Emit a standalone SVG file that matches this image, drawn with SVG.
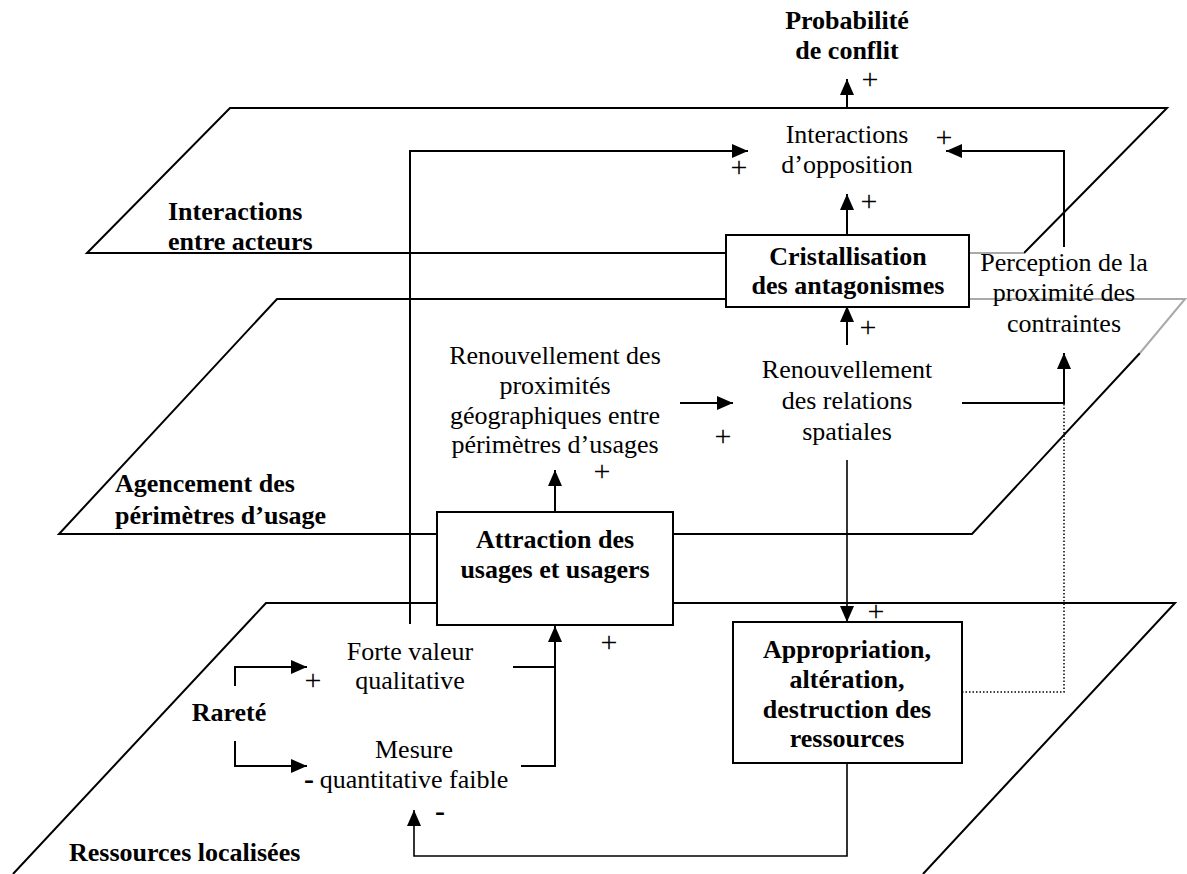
<svg xmlns="http://www.w3.org/2000/svg" width="1187" height="874" viewBox="0 0 1187 874">
<style>
text{font-family:"Liberation Serif","Times New Roman",serif;font-size:26px;fill:#000;text-anchor:middle}
.b{font-weight:bold}
.l{text-anchor:start}
.s{font-size:30px}
.pl{fill:none;stroke:#000;stroke-width:2}
.gr{fill:none;stroke:#aaa;stroke-width:2}
.box{fill:#fff;stroke:#000;stroke-width:2}
.c{fill:none;stroke:#000;stroke-width:2}
.c2{fill:none;stroke:#000;stroke-width:1.6}
.dot{fill:none;stroke:#000;stroke-width:1.5;stroke-dasharray:1.5 2}
</style>
<defs>
<marker id="ah" markerUnits="userSpaceOnUse" viewBox="0 0 16 14" refX="16" refY="7" markerWidth="16" markerHeight="14" orient="auto">
<path d="M0,0 L16,7 L0,14 z" fill="#000"/>
</marker>
</defs>
<g id="planes">
<path class="pl" d="M726,253 H87 L230,108 H1167 L1024,253"/>
<path class="gr" d="M1024,253 H969"/>
<path class="pl" d="M726,299 H277 L59,534 H437"/>
<path class="pl" d="M673,534 H972 L1140,353"/>
<path class="gr" d="M1140,353 L1185,299 H969"/>
<path class="pl" d="M437,603 H266 L13,874"/>
<path class="pl" d="M673,603 H1175 L923,874"/>
<text class="b l" x="168" y="220">Interactions</text>
<text class="b l" x="168" y="250">entre acteurs</text>
<text class="b l" x="115" y="492">Agencement des</text>
<text class="b l" x="115" y="524">périmètres d’usage</text>
<text class="b l" x="69" y="861">Ressources localisées</text>
</g>
<g id="connectors">
<path class="c" d="M847,108 V79" marker-end="url(#ah)"/>
<path class="c" d="M847,235 V194" marker-end="url(#ah)"/>
<path class="c" d="M847,345 V306" marker-end="url(#ah)"/>
<path class="c" d="M410,624 V151 H748" marker-end="url(#ah)"/>
<path class="c" d="M1064,247 V151 H946" marker-end="url(#ah)"/>
<path class="c" d="M962,403 H1064 V353" marker-end="url(#ah)"/>
<path class="c" d="M680,403 H733" marker-end="url(#ah)"/>
<path class="c" d="M555,512 V470" marker-end="url(#ah)"/>
<path class="c2" d="M847,460 V622" marker-end="url(#ah)"/>
<path class="c" d="M235,686 V667 H307" marker-end="url(#ah)"/>
<path class="c" d="M235,741 V766 H307" marker-end="url(#ah)"/>
<path class="c" d="M513,667 H555"/>
<path class="c" d="M521,766 H555 V626" marker-end="url(#ah)"/>
<path class="c2" d="M847,763 V856 H414 V810" marker-end="url(#ah)"/>
<path class="dot" d="M962,692 H1064 V403"/>
<text class="s" x="870" y="89">+</text>
<text class="s" x="739" y="177">+</text>
<text class="s" x="944" y="147">+</text>
<text class="s" x="869" y="211">+</text>
<text class="s" x="868" y="337">+</text>
<text class="s" x="723" y="446">+</text>
<text class="s" x="602" y="481">+</text>
<text class="s" x="876" y="621">+</text>
<text class="s" x="609" y="652">+</text>
<text class="s" x="313" y="690">+</text>
<text class="b s" x="309" y="789">-</text>
<text class="b s" x="440" y="821">-</text>
</g>
<g id="n-probabilite">
<text class="b" x="847" y="29">Probabilité</text>
<text class="b" x="847" y="59">de conflit</text>
</g>
<g id="n-interactions">
<text x="847" y="143">Interactions</text>
<text x="847" y="173">d’opposition</text>
</g>
<g id="n-cristallisation">
<rect class="box" x="726" y="235" width="243" height="72"/>
<text class="b" x="848" y="265">Cristallisation</text>
<text class="b" x="848" y="294">des antagonismes</text>
</g>
<g id="n-perception">
<text x="1064" y="271">Perception de la</text>
<text x="1064" y="301">proximité des</text>
<text x="1064" y="332">contraintes</text>
</g>
<g id="n-renouv-prox">
<text x="555" y="364">Renouvellement des</text>
<text x="555" y="394">proximités</text>
<text x="555" y="424">géographiques entre</text>
<text x="555" y="453">périmètres d’usages</text>
</g>
<g id="n-renouv-rel">
<text x="847" y="378">Renouvellement</text>
<text x="847" y="409">des relations</text>
<text x="847" y="440">spatiales</text>
</g>
<g id="n-attraction">
<rect class="box" x="437" y="512" width="236" height="113"/>
<text class="b" x="555" y="548">Attraction des</text>
<text class="b" x="555" y="578">usages et usagers</text>
</g>
<g id="n-appropriation">
<rect class="box" x="733" y="622" width="229" height="141"/>
<text class="b" x="847" y="658">Appropriation,</text>
<text class="b" x="847" y="688">altération,</text>
<text class="b" x="847" y="718">destruction des</text>
<text class="b" x="847" y="747">ressources</text>
</g>
<g id="n-forte">
<text x="410" y="660">Forte valeur</text>
<text x="410" y="689">qualitative</text>
</g>
<g id="n-mesure">
<text x="414" y="758">Mesure</text>
<text x="414" y="788">quantitative faible</text>
</g>
<g id="n-rarete">
<text class="b" x="229" y="721">Rareté</text>
</g>
</svg>
